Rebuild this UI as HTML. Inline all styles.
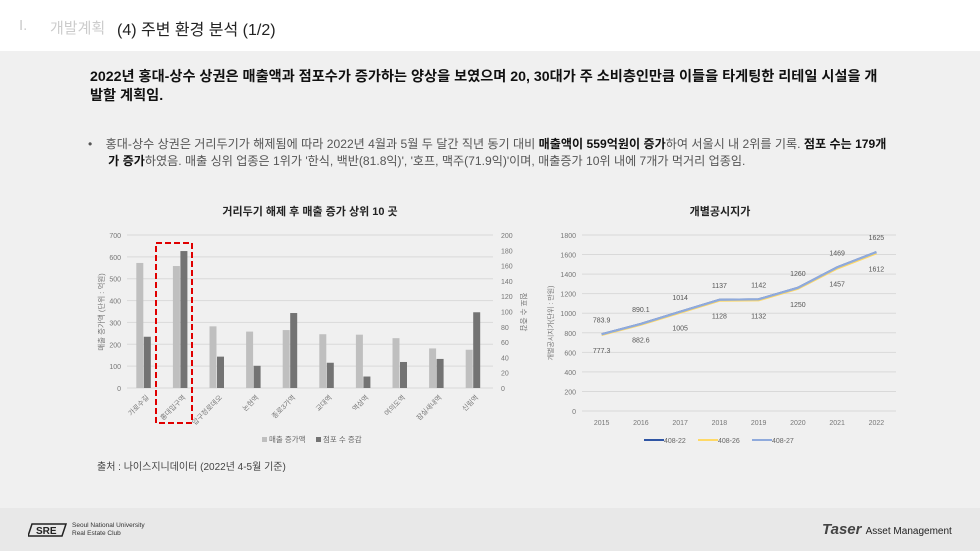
<!DOCTYPE html>
<html><head><meta charset="utf-8">
<style>
*{margin:0;padding:0;box-sizing:border-box}
body{width:980px;height:551px;overflow:hidden;background:#f0f0f0;font-family:"Liberation Sans","Noto Sans CJK KR",sans-serif;position:relative}
#header{position:absolute;left:0;top:0;width:980px;height:51px;background:#fff}
#footer{position:absolute;left:0;top:508px;width:980px;height:43px;background:#e8e8e8}
.t{position:absolute;white-space:nowrap}
svg{position:absolute;left:0;top:0}
</style></head><body>
<div id="header">
 <div class="t" style="left:19px;top:17px;font-size:15px;color:#ccc">I.</div>
 <div class="t" style="left:50px;top:17px;font-size:15px;color:#ccc">개발계획</div>
 <div class="t" style="left:117px;top:16px;font-size:16px;color:#222">(4) 주변 환경 분석 (1/2)</div>
</div>
<div class="t" style="left:90px;top:68px;font-size:14.2px;font-weight:bold;color:#111;line-height:19px">2022년 홍대-상수 상권은 매출액과 점포수가 증가하는 양상을 보였으며 20, 30대가 주 소비층인만큼 이들을 타게팅한 리테일 시설을 개<br>발할 계획임.</div>
<div class="t" style="left:88px;top:136px;font-size:12.1px;color:#555;line-height:17px">•&nbsp;&nbsp;&nbsp;&nbsp;홍대-상수 상권은 거리두기가 해제됨에 따라 2022년 4월과 5월 두 달간 직년 동기 대비 <b style="color:#111">매출액이 559억원이 증가</b>하여 서울시 내 2위를 기록. <b style="color:#111">점포 수는 179개</b><br>&nbsp;&nbsp;&nbsp;&nbsp;&nbsp;&nbsp;<b style="color:#111">가 증가</b>하였음. 매출 싱위 업종은 1위가 '한식, 백반(81.8익)', '호프, 맥주(71.9익)'이며, 매출증가 10위 내에 7개가 먹거리 업종임.</div>
<div class="t" style="left:97px;top:458px;font-size:10px;color:#444">출처 : 나이스지니데이터 (2022년 4-5월 기준)</div>

<svg id="chart" width="980" height="551"></svg>

<div id="footer">
 <svg width="40" height="16" style="left:28px;top:14px"><path d="M4 2h34l-4 12H0z" fill="none" stroke="#222" stroke-width="1.5"/><text x="8" y="12" font-size="10" font-family="Liberation Sans" fill="#222" font-weight="bold">SRE</text></svg>
 <div class="t" style="left:72px;top:14px;font-size:6.5px;color:#333;line-height:8px">Seoul National University<br>Real Estate Club</div>
 <div class="t" style="left:822px;top:13px;font-size:15px;font-weight:bold;color:#444;font-style:italic">Taser <span style="font-size:10px;font-weight:normal;font-style:normal;color:#222">Asset Management</span></div>
</div>

<script>
const cats=['가로수길','홍대입구역','압구정로데오','논현역','종로3가역','교대역','역삼역','여의도역','잠실새내역','신림역'];
const salesVals=[572,558,282,258,265,246,244,228,181,175];
const storeVals=[67,179,41,29,98,33,15,34,38,99];
const leftTicks=[0,100,200,300,400,500,600,700];
const rightTicks=[0,20,40,60,80,100,120,140,160,180,200];
const years=['2015','2016','2017','2018','2019','2020','2021','2022'];
const s22=[783.9,890.1,1014,1137,1142,1260,1469,1625];
const s26=[777.3,882.6,1005,1128,1132,1250,1457,1612];
const s27=[783.9,890.1,1014,1137,1142,1260,1469,1625];
const priceTicks=[0,200,400,600,800,1000,1200,1400,1600,1800];

const svg=document.getElementById('chart');
const NS='http://www.w3.org/2000/svg';
function mk(tag,at,txt){const e=document.createElementNS(NS,tag);for(const k in at)e.setAttribute(k,at[k]);if(txt!==undefined)e.textContent=txt;svg.appendChild(e);return e;}
const F='Liberation Sans, Noto Sans CJK KR, sans-serif';

// Left chart
const L={x0:127,x1:493,y0:388,y1:235};
const yL=v=>L.y0-(v/700)*(L.y0-L.y1);
const yR=v=>L.y0-(v/200)*(L.y0-L.y1);
const step=(L.x1-L.x0)/cats.length;
const xC=i=>L.x0+step*(i+0.5);
let t=mk('text',{x:310,y:215,'font-size':11,'font-weight':'bold','text-anchor':'middle','font-family':F,fill:'#222'},'거리두기 해제 후 매출 증가 상위 10 곳');

leftTicks.forEach(v=>{
 let g=mk('line',{x1:L.x0,x2:L.x1,y1:yL(v),y2:yL(v),stroke:'#d9d9d9','stroke-width':1});
 
 let l=mk('text',{x:L.x0-6,y:yL(v)+3,'font-size':7,'text-anchor':'end','font-family':F,fill:'#777'},v);
 
});
rightTicks.forEach(v=>{
 let l=mk('text',{x:L.x1+8,y:yR(v)+3,'font-size':7,'font-family':F,fill:'#777'},v);
 
});
t=mk('text',{transform:'translate(104,312) rotate(-90)','font-size':7.5,'text-anchor':'middle','font-family':F,fill:'#777'},'매출 증가액 (단위 : 억원)');

t=mk('text',{transform:'translate(521,312) rotate(90)','font-size':7.5,'text-anchor':'middle','font-family':F,fill:'#777'},'점포 수 증감');

cats.forEach((c,i)=>{
 const cx=xC(i);
 let b=mk('rect',{x:cx-9,y:yL(salesVals[i]),width:7,height:L.y0-yL(salesVals[i]),fill:'#bfbfbf'});
 
 b=mk('rect',{x:cx-1.5,y:yR(storeVals[i]),width:7,height:L.y0-yR(storeVals[i]),fill:'#737373'});
 
 let l=mk('text',{transform:`translate(${cx+4},${L.y0+10}) rotate(-45)`,'font-size':7,'text-anchor':'end','font-family':F,fill:'#777'},c);
 
});
let hb=mk('rect',{x:156,y:243,width:36,height:180,fill:'none',stroke:'#e00000','stroke-width':2,'stroke-dasharray':'6,3'});

let lg=mk('rect',{x:262,y:437,width:5,height:5,fill:'#bfbfbf'});
lg=mk('text',{x:269,y:442,'font-size':7.5,'font-family':F,fill:'#666'},'매출 증가액');
lg=mk('rect',{x:316,y:437,width:5,height:5,fill:'#737373'});
lg=mk('text',{x:323,y:442,'font-size':7.5,'font-family':F,fill:'#666'},'점포 수 증감');

// Right chart
const R={x0:582,x1:896,y0:411,y1:235};
const yP=v=>R.y0-(v/1800)*(R.y0-R.y1);
const pstep=(R.x1-R.x0)/years.length;
const xP=i=>R.x0+pstep*(i+0.5);
t=mk('text',{x:720,y:215,'font-size':11,'font-weight':'bold','text-anchor':'middle','font-family':F,fill:'#222'},'개별공시지가');

priceTicks.forEach(v=>{
 let g=mk('line',{x1:R.x0,x2:R.x1,y1:yP(v),y2:yP(v),stroke:'#d9d9d9','stroke-width':1});
 
 let l=mk('text',{x:R.x0-6,y:yP(v)+3,'font-size':7,'text-anchor':'end','font-family':F,fill:'#777'},v);
 
});
t=mk('text',{transform:'translate(553,323) rotate(-90)','font-size':7,'text-anchor':'middle','font-family':F,fill:'#777'},'개별공시지가(단위 : 만원)');

years.forEach((y,i)=>{let l=mk('text',{x:xP(i),y:R.y0+14,'font-size':7,'text-anchor':'middle','font-family':F,fill:'#777'},y);
 });
function line(vals,col,name){const p=mk('polyline',{points:vals.map((v,i)=>xP(i)+','+yP(v)).join(' '),fill:'none',stroke:col,'stroke-width':2.2});
 }
line(s22,'#2f55a4','line-408-22');
line(s26,'#ffd966','line-408-26');
line(s27,'#8faadc','line-408-27');
s27.forEach((v,i)=>{let l=mk('text',{x:xP(i),y:yP(v)-12,'font-size':7,'text-anchor':'middle','font-family':F,fill:'#555'},v);
 });
s26.forEach((v,i)=>{let l=mk('text',{x:xP(i),y:yP(v)+18,'font-size':7,'text-anchor':'middle','font-family':F,fill:'#555'},v);
 });
[['408-22','#2f55a4',644],['408-26','#ffd966',698],['408-27','#8faadc',752]].forEach(([n,c,x])=>{
 let s=mk('line',{x1:x,x2:x+20,y1:440,y2:440,stroke:c,'stroke-width':2});
 let l=mk('text',{x:x+20,y:443,'font-size':7,'font-family':F,fill:'#666'},n);
});
</script>
</body></html>
